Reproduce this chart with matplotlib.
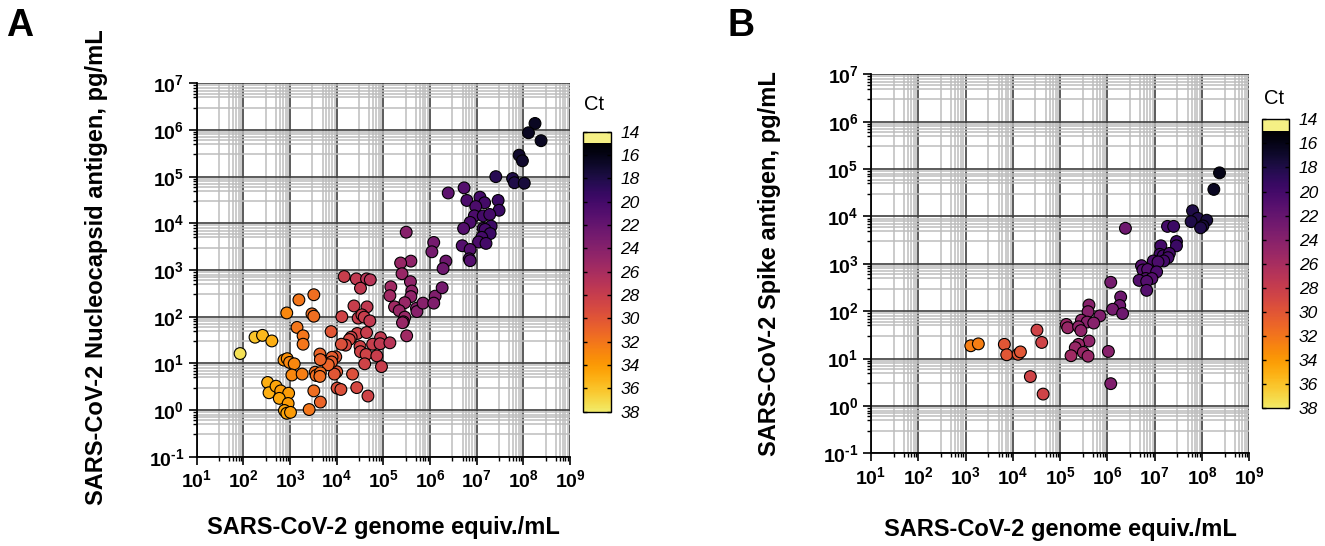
import numpy as np
import matplotlib
matplotlib.use("Agg")
import matplotlib.pyplot as plt
from matplotlib.colors import ListedColormap, Normalize
from matplotlib.ticker import LogLocator, NullFormatter, FuncFormatter

plt.rcParams['font.family'] = ['Liberation Sans', 'DejaVu Sans']
plt.rcParams['mathtext.fontset'] = 'custom'
plt.rcParams['mathtext.rm'] = 'Liberation Sans:bold'
plt.rcParams['mathtext.bf'] = 'Liberation Sans:bold'
plt.rcParams['mathtext.it'] = 'Liberation Sans:bold'

# ---- panel A: nucleocapsid (log10 values) ----
a_log_genome = [8.25, 8.11, 8.38, 7.91, 7.98, 7.41, 7.77, 7.81, 8.02, 6.39,
                6.73, 6.79, 7.07, 7.17, 6.98, 7.46, 7.48, 6.95, 7.14, 7.28,
                6.86, 6.72, 7.14, 7.31, 7.18, 7.29, 7.11, 7.04, 7.20, 6.69,
                6.86, 6.84, 6.86, 5.49, 6.08, 6.04, 6.34, 6.28, 5.59, 5.37,
                5.40, 5.58, 5.16, 5.14, 5.61, 5.59, 5.46, 5.24, 5.34, 5.71,
                5.72, 5.85, 6.11, 6.08, 6.26, 5.46, 5.43, 5.41, 5.50, 4.16,
                4.42, 4.64, 4.72, 4.51, 4.37, 4.65, 4.11, 4.46, 4.54, 4.59,
                4.71, 3.88, 4.44, 4.64, 4.31, 4.27, 4.19, 4.10, 4.94, 4.77,
                4.93, 5.14, 4.50, 4.51, 4.63, 4.86, 4.60, 4.96, 4.34, 4.43,
                4.67, 4.01, 4.09, 4.00, 3.95, 3.98, 3.90, 3.89, 3.82, 3.51,
                3.19, 2.93, 3.47, 3.51, 3.15, 3.28, 3.28, 3.64, 3.65, 2.87,
                2.94, 2.99, 3.09, 3.04, 3.26, 3.54, 3.56, 3.65, 3.64, 3.51,
                3.65, 3.41, 1.93, 2.25, 2.41, 2.61, 2.52, 2.55, 2.70, 2.80,
                2.97, 2.77, 2.96, 2.88, 2.93, 3.01]
a_log_antigen = [6.14, 5.94, 5.77, 5.46, 5.34, 5.00, 4.96, 4.87, 4.86, 4.65,
                 4.76, 4.49, 4.56, 4.44, 4.36, 4.49, 4.28, 4.16, 4.16, 4.19,
                 4.02, 3.89, 3.89, 3.94, 3.87, 3.78, 3.70, 3.60, 3.57, 3.52,
                 3.44, 3.24, 3.20, 3.81, 3.59, 3.39, 3.19, 3.03, 3.19, 3.15,
                 2.92, 2.75, 2.64, 2.45, 2.55, 2.43, 2.30, 2.21, 2.13, 2.18,
                 2.11, 2.29, 2.44, 2.29, 2.62, 1.99, 1.89, 1.87, 1.59, 2.86,
                 2.81, 2.81, 2.79, 2.61, 2.23, 2.21, 2.00, 1.97, 2.04, 1.99,
                 1.91, 1.68, 1.64, 1.66, 1.56, 1.51, 1.39, 1.41, 1.55, 1.41,
                 1.42, 1.44, 1.36, 1.25, 1.19, 1.16, 0.99, 0.93, 0.77, 0.48,
                 0.30, 0.47, 0.44, 0.82, 0.77, 1.14, 1.13, 1.03, 0.97, 2.47,
                 2.36, 2.08, 2.06, 2.01, 1.77, 1.59, 1.41, 1.20, 1.08, 1.07,
                 1.10, 1.02, 0.99, 0.75, 0.77, 0.81, 0.74, 0.80, 0.72, 0.41,
                 0.17, 0.01, 1.21, 1.56, 1.60, 1.48, 0.59, 0.37, 0.51, 0.41,
                 0.36, 0.25, 0.14, -0.01, -0.07, -0.05]
a_ct = [16.5, 16.5, 16.5, 17, 17, 18.5, 18, 18, 17.5, 21.5,
        21, 20.5, 20, 20, 20.5, 19.5, 19.5, 20.5, 20, 20,
        20.5, 21, 20, 19.5, 20, 19.5, 20, 20.5, 20, 21,
        21, 21, 21, 24, 23, 23, 22.5, 22.5, 24.5, 25,
        25, 24.5, 25.5, 25.5, 24.5, 24.5, 25, 25.5, 25, 24,
        24, 24, 23.5, 23.5, 23, 25, 25, 25, 25.5, 28,
        27.5, 27, 27, 27.5, 28, 27.5, 28.5, 28, 28, 28,
        27.5, 30, 28.5, 28, 28.5, 29, 29, 29.5, 27.5, 28,
        27.5, 27, 28.5, 28.5, 28.5, 28, 28.5, 28, 29.5, 29,
        28.5, 29.5, 29.5, 30, 30, 30, 30.5, 30.5, 31, 31.5,
        32, 33, 31.5, 31.5, 32, 32, 32, 31, 31, 33.5,
        33.5, 33, 33, 33, 32.5, 31.5, 31.5, 31.5, 31.5, 31.5,
        31, 32, 37.5, 36, 35.5, 35, 35, 35, 34.5, 34,
        34, 34.5, 34, 34.5, 34.5, 34]

# ---- panel B: spike ----
b_log_genome = [8.37, 8.25, 7.80, 7.91, 7.77, 8.10, 8.02, 7.97, 6.38, 7.27,
                7.40, 7.46, 7.46, 7.13, 7.11, 7.18, 7.31, 7.28, 7.19, 6.97,
                7.07, 6.72, 6.75, 6.85, 7.04, 6.81, 6.94, 6.67, 6.83, 6.83,
                6.07, 6.28, 6.26, 6.11, 6.32, 5.61, 5.59, 5.84, 5.45, 5.57,
                5.71, 5.13, 5.16, 5.39, 5.44, 5.61, 5.39, 5.32, 5.49, 5.23,
                5.59, 6.02, 6.07, 4.51, 4.61, 4.37, 4.64, 3.82, 3.87, 4.11,
                4.16, 3.11, 3.27]
b_log_antigen = [4.92, 4.57, 4.12, 3.96, 3.89, 3.92, 3.80, 3.76, 3.75, 3.79,
                 3.79, 3.47, 3.38, 3.38, 3.20, 3.17, 3.22, 3.13, 3.06, 3.06,
                 3.04, 2.96, 2.87, 2.88, 2.83, 2.69, 2.69, 2.65, 2.63, 2.44,
                 2.61, 2.30, 2.12, 2.04, 1.95, 2.13, 1.99, 1.90, 1.81, 1.77,
                 1.75, 1.72, 1.65, 1.67, 1.59, 1.37, 1.30, 1.23, 1.13, 1.06,
                 1.05, 1.15, 0.47, 1.60, 1.34, 0.62, 0.25, 1.30, 1.08, 1.09,
                 1.14, 1.27, 1.31]
b_ct = [16, 16.5, 18, 18, 18, 17.5, 17.5, 18, 22.5, 20,
        19.5, 19.5, 19.5, 20, 20, 20, 20, 20, 20, 20.5,
        20.5, 21, 21, 21, 20.5, 21, 21, 21, 21, 21,
        23, 22.5, 22.5, 23, 22.5, 24, 24, 23.5, 24.5, 24,
        24, 25, 25, 24.5, 24.5, 24.5, 25, 25, 25, 25.5,
        25, 24, 23.5, 28.5, 28.5, 28.5, 28.5, 30, 30, 30,
        30, 32.5, 32.5]

ct_ticks = list(range(14, 40, 2))
genome_label = "SARS-CoV-2 genome equiv./mL"
a_ylabel = "SARS-CoV-2 Nucleocapsid antigen, pg/mL"
b_ylabel = "SARS-CoV-2 Spike antigen, pg/mL"

# colour scale: pale yellow cap for 14-15, inferno from 15 (black) to 38 (yellow)
vals = np.linspace(14, 38, 480)
cols = []
for v in vals:
    if v < 15:
        cols.append((0.96, 0.94, 0.52, 1.0))
    else:
        cols.append(plt.cm.inferno((v - 15) / 23 * 0.94))
cmap = ListedColormap(cols)
norm = Normalize(14, 38)

W, H = 1325, 546
fig = plt.figure(figsize=(13.25, 5.46), dpi=100)


def px_axes(x0, y0, x1, y1):
    return fig.add_axes([x0 / W, 1 - y1 / H, (x1 - x0) / W, (y1 - y0) / H])


def pow_fmt(v, pos):
    e = int(round(np.log10(v)))
    s = str(e).replace('-', '\u2010')
    return r'$\mathbf{10^{%s}}$' % s


def style_axes(ax, ylabel, ylab_x, ylab_y, xlab_y):
    ax.set_xscale('log')
    ax.set_yscale('log')
    ax.set_xlim(1e1, 1e9)
    ax.set_ylim(1e-1, 1e7)
    for a in (ax.xaxis, ax.yaxis):
        a.set_major_locator(LogLocator(base=10, numticks=20))
        a.set_minor_locator(LogLocator(base=10, subs=[3, 5, 6, 7, 8, 9], numticks=20))
        a.set_major_formatter(FuncFormatter(pow_fmt))
        a.set_minor_formatter(NullFormatter())
    ax.grid(True, which='minor', color='#bdbdbd', lw=1.1, zorder=0)
    ax.grid(True, which='major', color='#404040', lw=1.2, zorder=0)
    ax.set_axisbelow(True)
    for s in ('top', 'right'):
        ax.spines[s].set_visible(False)
    for s in ('left', 'bottom'):
        ax.spines[s].set_linewidth(1.3)
    ax.tick_params(which='major', length=6, width=1.2, labelsize=14, pad=3)
    ax.tick_params(which='minor', length=3, width=1.0)
    ax.set_ylabel(ylabel, fontsize=17, fontweight='bold')
    ax.yaxis.set_label_coords(ylab_x, ylab_y)
    ax.set_xlabel(genome_label, fontsize=17, fontweight='bold')
    ax.xaxis.set_label_coords(0.5, xlab_y)


def add_cbar(sc, x0, y0, x1, y1, ctx, cty):
    cax = px_axes(x0, y0, x1, y1)
    cb = fig.colorbar(sc, cax=cax, ticks=ct_ticks)
    cax.invert_yaxis()
    cb.outline.set_linewidth(1.0)
    cax.tick_params(direction='in', left=True, right=True, length=3, width=1,
                    labelsize=12.5, pad=7)
    for t in cax.get_yticklabels():
        t.set_fontstyle('italic')
    fig.text(ctx / W, 1 - cty / H, 'Ct', fontsize=14.5, ha='center', va='center')


# panel A
axA = px_axes(196.7, 83.3, 570, 456.7)
scA = axA.scatter(10 ** np.array(a_log_genome), 10 ** np.array(a_log_antigen),
                  c=a_ct, cmap=cmap, norm=norm, s=72, edgecolors='black',
                  linewidths=0.8, zorder=3)
style_axes(axA, a_ylabel, -0.238, 0.509, -0.16)
add_cbar(scA, 583.3, 131.7, 610.7, 411.7, 594, 104)

# panel B
axB = px_axes(871, 74.3, 1249.3, 453.3)
scB = axB.scatter(10 ** np.array(b_log_genome), 10 ** np.array(b_log_antigen),
                  c=b_ct, cmap=cmap, norm=norm, s=72, edgecolors='black',
                  linewidths=0.8, zorder=3)
style_axes(axB, b_ylabel, -0.238, 0.5, -0.17)
add_cbar(scB, 1262.3, 119.3, 1289.3, 408.3, 1274, 98)

fig.text(6 / W, 1 - 26 / H, 'A', fontsize=27, fontweight='bold', va='center')
fig.text(728 / W, 1 - 26 / H, 'B', fontsize=27, fontweight='bold', va='center')

fig.savefig('out.png', dpi=100)
